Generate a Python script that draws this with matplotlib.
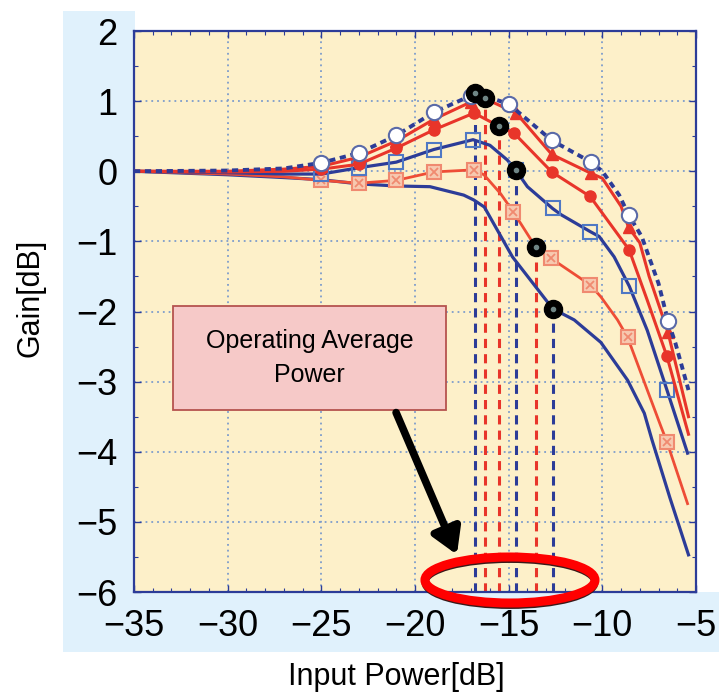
import matplotlib
matplotlib.use("Agg")
import matplotlib.pyplot as plt
from matplotlib.patches import Rectangle, Ellipse, FancyArrowPatch
from matplotlib.ticker import MultipleLocator

plt.rcParams['font.family'] = ['Liberation Sans', 'DejaVu Sans']

# input power [dB] / gain [dB] for each bias condition
x_circ = [-35, -30, -27, -25, -23, -21, -19, -17, -16.8, -15, -12.7, -10.6, -10.0, -9.1, -8.6, -7.9, -7.0, -6.5, -6.1, -5.4]
y_circ = [0.0, 0.01, 0.04, 0.12, 0.26, 0.51, 0.84, 1.08, 1.12, 0.96, 0.44, 0.13, 0.0, -0.34, -0.62, -0.93, -1.6, -2.13, -2.45, -3.12]
mk_circ = [3, 4, 5, 6, 7, 9, 10, 11, 14, 17]

x_tri = [-35, -30, -27, -25, -23, -21, -19, -17, -16.3, -14.6, -12.7, -10.6, -10.0, -9.0, -8.6, -8.0, -7.5, -6.5, -5.4]
y_tri = [0.0, 0.0, 0.03, 0.07, 0.2, 0.43, 0.74, 0.99, 1.04, 0.83, 0.24, -0.03, -0.1, -0.5, -0.8, -1.02, -1.5, -2.29, -3.5]
mk_tri = [3, 4, 5, 6, 7, 9, 10, 11, 14, 17]

x_fc = [-35, -30, -27, -25, -23, -21, -19, -16.85, -15.5, -14.7, -12.7, -10.65, -8.57, -7.6, -6.55, -5.4]
y_fc = [0.0, -0.01, 0.0, 0.03, 0.1, 0.33, 0.59, 0.83, 0.64, 0.54, -0.01, -0.36, -1.12, -1.84, -2.64, -3.75]
mk_fc = [3, 4, 5, 6, 7, 9, 10, 11, 12, 14]

x_sq = [-35, -30, -27, -25, -23, -21, -19, -16.9, -16.0, -15.07, -14.63, -14.0, -12.66, -12.2, -10.65, -10.17, -9.37, -8.56, -7.6, -6.55, -5.45]
y_sq = [0.0, -0.02, -0.04, -0.04, 0.05, 0.13, 0.31, 0.45, 0.37, 0.16, 0.02, -0.22, -0.53, -0.62, -0.86, -0.93, -1.22, -1.64, -2.27, -3.12, -4.02]
mk_sq = [3, 4, 5, 6, 7, 10, 12, 14, 17, 19]

x_xs = [-35, -30, -27, -25, -23, -21, -19, -16.86, -16.32, -15.43, -14.75, -13.56, -12.75, -10.65, -10.08, -9.19, -8.65, -7.6, -6.87, -6.55, -5.45]
y_xs = [0.0, -0.04, -0.08, -0.13, -0.17, -0.13, -0.01, 0.02, -0.05, -0.32, -0.58, -1.08, -1.24, -1.62, -1.79, -2.12, -2.37, -3.12, -3.64, -3.86, -4.74]
mk_xs = [3, 4, 5, 6, 7, 10, 12, 13, 16, 19]

x_bl = [-35, -30, -27, -25, -23, -21, -19.2, -17.4, -16.86, -16.3, -14.8, -12.65, -11.5, -10.08, -8.65, -7.76, -7.35, -6.4, -5.4]
y_bl = [0.0, -0.05, -0.09, -0.12, -0.18, -0.21, -0.22, -0.34, -0.41, -0.51, -1.22, -1.96, -2.12, -2.44, -2.98, -3.45, -3.83, -4.65, -5.47]

# operating average power point of each curve
op_x = [-16.8, -16.25, -15.5, -14.63, -13.56, -12.65]
op_y = [1.12, 1.04, 0.64, 0.02, -1.08, -1.96]

BLUE = '#2c3c98'
RED = '#e8352a'
SALMON = '#f08a70'
op_colors = [BLUE, RED, RED, BLUE, RED, BLUE]

fig = plt.figure(figsize=(7.19, 6.92), dpi=100)

# light blue backing behind the tick labels (kept under the axes)
panel = '#e0f1fc'
fig.patches.append(Rectangle((0.0876, 0.0578), 0.1, 0.9262, transform=fig.transFigure,
                             facecolor=panel, edgecolor='none', zorder=-1))
fig.patches.append(Rectangle((0.0876, 0.0578), 0.9124, 0.0867, transform=fig.transFigure,
                             facecolor=panel, edgecolor='none', zorder=-1))

ax = fig.add_axes([0.1864, 0.1445, 0.7816, 0.8107])
ax.set_facecolor('#fdf0c9')
ax.set_xlim(-35, -5)
ax.set_ylim(-6, 2)

ax.xaxis.set_major_locator(MultipleLocator(5))
ax.xaxis.set_minor_locator(MultipleLocator(1))
ax.yaxis.set_major_locator(MultipleLocator(1))
ax.yaxis.set_minor_locator(MultipleLocator(0.5))
ax.grid(True, which='major', color='#7d9ccc', linestyle=(0, (1, 2.2)), linewidth=1.3)
ax.set_axisbelow(True)

for s in ax.spines.values():
    s.set_color(BLUE)
    s.set_linewidth(1.6)
ax.tick_params(which='both', direction='in', top=True, right=True, color=BLUE)
ax.tick_params(which='major', length=5, width=1.0, labelsize=26, pad=12)
ax.tick_params(which='minor', length=3, width=0.8)

# vertical drop lines from each operating point
for xv, yv, c in zip(op_x, op_y, op_colors):
    ax.vlines(xv, -6, yv, colors=c, linestyles=(0, (3, 2)), linewidth=2.2, zorder=2)

ax.plot(x_bl, y_bl, color=BLUE, lw=2.3, zorder=3)
ax.plot(x_xs, y_xs, color='#ee4d36', lw=2.0, marker='s', markevery=mk_xs, ms=10,
        mfc='#f7c9b0', mec=SALMON, mew=1.5, zorder=3)
ax.plot([x_xs[i] for i in mk_xs], [y_xs[i] for i in mk_xs], ls='none', marker='x', ms=6,
        mec=SALMON, mew=1.3, zorder=3)
ax.plot(x_sq, y_sq, color=BLUE, lw=2.3, marker='s', markevery=mk_sq, ms=10,
        mfc='none', mec='#4f78c4', mew=1.5, zorder=3)
ax.plot(x_fc, y_fc, color=RED, lw=2.2, marker='o', markevery=mk_fc, ms=8,
        mfc=RED, mec=RED, zorder=4)
ax.plot(x_tri, y_tri, color=RED, lw=2.2, marker='^', markevery=mk_tri, ms=8,
        mfc=RED, mec=RED, zorder=4)
ax.plot(x_circ, y_circ, color=BLUE, lw=2.8, ls=(0, (1.6, 1.2)), marker='o', markevery=mk_circ,
        ms=11, mfc='white', mec='#5a6aa8', mew=1.5, zorder=5)

ax.plot(op_x, op_y, ls='none', marker='o', ms=13, color='black', zorder=6)
ax.plot(op_x, op_y, ls='none', marker='o', ms=3, color='#6f8585', zorder=7)

ax.set_xlabel('Input Power[dB]', fontsize=22, va='center')
ax.set_ylabel('Gain[dB]', fontsize=22, va='center')
ax.xaxis.set_label_coords(0.466, -0.1515)
ax.yaxis.set_label_coords(-0.185, 0.524)

# callout box, arrow and ellipse around the operating points
ax.add_patch(Rectangle((0.0694, 0.3244), 0.4856, 0.1854, transform=ax.transAxes,
                       facecolor='#f6c9c8', edgecolor='#b5534f', lw=1.3, zorder=8))
ax.text(0.312, 0.417, 'Operating Average\nPower', transform=ax.transAxes, ha='center',
        va='center', fontsize=18, linespacing=1.5, zorder=9)
ax.add_patch(FancyArrowPatch((0.4644, 0.3244), (0.5765, 0.062), transform=ax.transAxes,
                             arrowstyle='-|>,head_length=15,head_width=9', lw=5.5,
                             color='black', zorder=9))
ax.add_patch(Ellipse((0.669, 0.017), 0.3025, 0.082, transform=ax.transAxes, fill=False,
                     edgecolor='#3a1a1a', lw=5, clip_on=False, zorder=9))
ax.add_patch(Ellipse((0.669, 0.0214), 0.3025, 0.082, transform=ax.transAxes, fill=False,
                     edgecolor='#ff0000', lw=6.5, clip_on=False, zorder=10))

fig.savefig('out.png', dpi=100)
